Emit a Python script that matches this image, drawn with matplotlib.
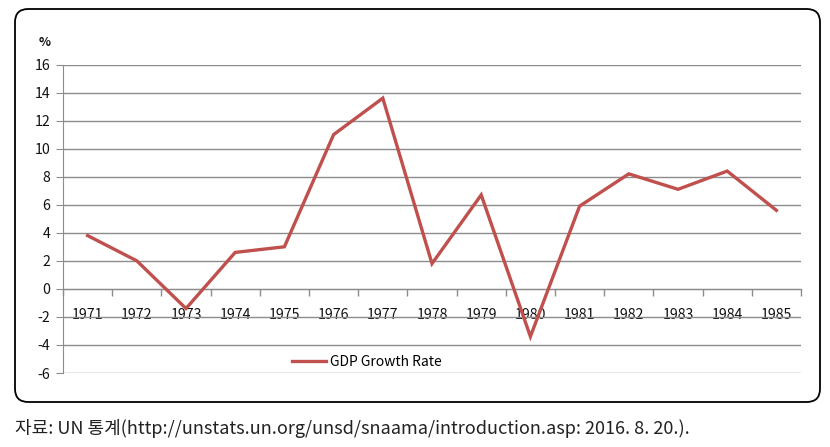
import matplotlib.pyplot as plt
from matplotlib.patches import FancyBboxPatch

plt.rcParams['font.family'] = ['Noto Sans CJK KR', 'DejaVu Sans']
plt.rcParams['axes.unicode_minus'] = False

years = ['1971', '1972', '1973', '1974', '1975', '1976', '1977', '1978',
         '1979', '1980', '1981', '1982', '1983', '1984', '1985']
gdp_growth = [3.8, 2.0, -1.4, 2.6, 3.0, 11.0, 13.6, 1.8,
              6.7, -3.4, 5.9, 8.2, 7.1, 8.4, 5.6]
y_ticks = list(range(-6, 17, 2))

W, H = 830, 447
fig = plt.figure(figsize=(W / 100, H / 100), dpi=100)
ax = fig.add_axes([63 / W, 1 - 373 / H, (801 - 63) / W, (373 - 64.5) / H])

# rounded frame around the chart
frame = FancyBboxPatch((15 / W, 1 - 402 / H), (820 - 15) / W, (402 - 9) / H,
                       boxstyle="round,pad=0,rounding_size=0.016",
                       mutation_aspect=W / H, transform=fig.transFigure,
                       facecolor='white', edgecolor='black', linewidth=1.3,
                       zorder=-10)
fig.patches.append(frame)

x = list(range(len(years)))
ax.plot(x, gdp_growth, color='#c0504d', linewidth=2.4, label='GDP Growth Rate',
        zorder=3, solid_joinstyle='miter')

ax.set_xlim(-0.5, len(years) - 0.5)
ax.set_ylim(-6, 16)
ax.set_yticks(y_ticks)
ax.yaxis.grid(True, color='#8c8c8c', linewidth=1.0)
ax.set_axisbelow(True)

for s in ['top', 'right']:
    ax.spines[s].set_visible(False)
ax.spines['left'].set_color('#8c8c8c')
ax.spines['bottom'].set_color('#8c8c8c')
ax.spines['bottom'].set_position(('data', 0))

# category boundary ticks on the zero line, labels at centres below
ax.set_xticks([i - 0.5 for i in range(len(years) + 1)])
ax.set_xticklabels([])
ax.tick_params(axis='x', which='major', direction='out', length=5,
               color='#8c8c8c', width=1)
ax.set_xticks(x, minor=True)
ax.set_xticklabels(years, minor=True, fontsize=10.2, color='#111111')
ax.tick_params(axis='x', which='minor', length=0, pad=14)
ax.tick_params(axis='y', direction='out', length=5, color='#8c8c8c',
               labelsize=10.2, labelcolor='#111111', pad=4)

fig.text(45 / W, 1 - 43 / H, '%', fontsize=9, fontweight='bold',
         color='#111111', ha='center', va='center')

ax.legend(loc='center', bbox_to_anchor=((367 - 63) / (801 - 63), (373 - 362) / (373 - 64.5)),
          frameon=False, fontsize=10, handlelength=2.4, handletextpad=0.3)

fig.text(15 / W, 1 - 429 / H,
         '자료: UN 통계(http://unstats.un.org/unsd/snaama/introduction.asp: 2016. 8. 20.).',
         fontsize=13, color='#222222', ha='left', va='center')

fig.savefig('out.png', dpi=100)
